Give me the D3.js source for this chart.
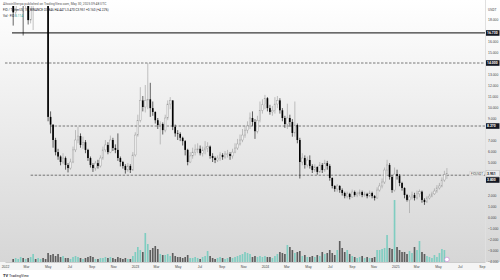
<!DOCTYPE html>
<html>
<head>
<meta charset="utf-8">
<script src="https://cdn.jsdelivr.net/npm/d3@7"></script>
<style>
  body { margin: 0; background: #fff; }
  svg { display: block; font-family: Roboto, "DejaVu Sans", sans-serif; }
</style>
</head>
<body>
<div id="chart"></div>
<script>
// weekly candles, first bar opens on this Monday
var firstWeek = "2022-01-24";
var firstOpen = 19.2;

var closes = [18.6, 19.8, 20.5, 21.0, 19.6, 20.2, 17.9, 20.5, 20.8, 20.5, 21.0, 22.0, 21.5, 21.0,
  9.1, 8.4, 7.0, 5.9, 5.5, 5.0, 5.36, 4.73, 4.45, 5.0, 6.1, 7.0, 7.36, 6.55, 6.8, 6.1,
  5.36, 4.73, 4.45, 4.9, 4.64, 5.36, 6.1, 6.55, 5.9, 7.0, 6.27, 6.1, 5.36, 5.0, 4.64, 4.27,
  4.64, 4.27, 5.64, 7.45, 8.8, 10.6, 10.0, 10.6, 10.7, 9.9, 9.55, 8.8, 8.36, 8.45, 7.9, 9.0,
  10.27, 10.6, 8.2, 7.6, 7.55, 7.2, 6.9, 6.1, 5.0, 5.55, 5.9, 6.1, 6.2, 5.8, 6.1, 6.27,
  6.4, 5.55, 5.36, 5.18, 5.36, 5.64, 5.45, 5.73, 5.73, 5.55, 5.9, 6.27, 6.64, 7.0, 7.45, 7.9,
  8.27, 9.0, 8.64, 7.8, 8.8, 9.7, 10.2, 10.8, 9.9, 9.55, 9.7, 10.27, 10.6, 9.7, 9.0, 8.45,
  9.0, 8.64, 7.64, 8.36, 7.0, 5.0, 5.36, 4.73, 5.18, 4.64, 4.27, 4.55, 4.1, 4.73, 4.27, 4.9,
  4.64, 3.55, 2.82, 2.55, 2.82, 2.45, 2.18, 1.9, 2.1, 1.82, 2.27, 2.0, 2.1, 2.27, 2.0, 2.1,
  1.9, 2.18, 1.9, 1.73, 2.45, 2.82, 3.18, 4.27, 4.73, 3.64, 2.45, 3.9, 3.73, 3.09, 2.64, 2.0,
  1.55, 1.82, 2.0, 1.73, 2.1, 2.3, 1.55, 1.36, 1.73, 1.9, 2.1, 2.36, 2.64, 2.82, 3.36, 3.846, 3.951];

var highs = [20.2, 21.0, 21.5, 22.0, 21.5, 21.0, 20.6, 21.0, 21.4, 21.8, 21.6, 22.8, 22.5, 22.0,
  21.5, 9.6, 8.4, 7.2, 6.2, 5.6, 5.8, 5.5, 4.9, 5.3, 6.4, 7.9, 8.2, 7.6, 7.3, 7.0,
  6.2, 5.5, 4.9, 5.1, 5.2, 5.6, 6.4, 7.0, 6.8, 7.4, 7.2, 6.6, 7.6, 5.5, 5.1, 4.8,
  4.9, 4.8, 5.9, 7.7, 9.3, 11.8, 11.0, 12.0, 14.0, 12.2, 10.5, 9.6, 9.0, 8.7, 8.6, 9.3,
  10.6, 10.9, 10.6, 8.4, 7.9, 7.7, 7.3, 7.0, 6.2, 5.9, 6.3, 6.6, 6.7, 6.5, 6.4, 6.9,
  6.8, 6.5, 5.8, 5.5, 5.6, 5.9, 5.8, 6.0, 6.1, 5.9, 6.2, 6.7, 7.1, 7.5, 8.0, 8.3,
  8.7, 9.5, 9.6, 8.9, 9.2, 10.5, 10.7, 11.1, 10.9, 10.2, 10.1, 10.9, 11.0, 10.8, 9.9, 9.2,
  10.3, 9.3, 8.9, 10.5, 8.5, 7.2, 5.8, 5.6, 5.5, 5.6, 4.8, 4.8, 4.6, 5.0, 4.9, 5.2,
  5.1, 4.8, 3.6, 2.9, 3.0, 2.9, 2.6, 2.3, 2.3, 2.2, 2.5, 2.4, 2.3, 2.5, 2.4, 2.3,
  2.2, 2.4, 2.3, 2.0, 2.7, 3.1, 3.5, 4.5, 5.2, 4.9, 3.8, 4.5, 4.3, 3.9, 3.2, 2.7,
  2.1, 2.0, 2.3, 2.2, 2.4, 2.5, 2.4, 1.7, 1.9, 2.1, 2.3, 2.6, 2.9, 3.1, 3.6, 4.2, 4.447];

var lows = [17.4, 18.2, 19.2, 19.5, 16.5, 19.0, 17.5, 17.6, 17.0, 19.9, 20.1, 20.6, 20.8, 20.2,
  8.7, 7.6, 6.3, 5.6, 5.2, 4.7, 4.8, 4.3, 4.05, 4.3, 4.9, 5.9, 6.7, 6.3, 6.2, 5.8,
  5.1, 4.5, 4.1, 4.2, 4.4, 4.5, 5.2, 5.9, 5.7, 5.8, 6.0, 5.8, 5.1, 4.6, 4.4, 3.95,
  4.1, 4.0, 4.2, 5.5, 7.3, 8.6, 9.6, 9.5, 9.8, 9.1, 9.2, 8.5, 8.0, 6.6, 7.5, 7.7,
  8.8, 9.8, 7.9, 7.3, 7.0, 6.9, 6.5, 5.6, 4.7, 4.9, 5.3, 5.6, 5.8, 5.6, 5.5, 5.7,
  5.9, 5.3, 5.0, 4.9, 5.0, 5.1, 5.2, 5.3, 5.4, 5.2, 5.3, 5.8, 6.1, 6.5, 6.8, 7.2,
  7.6, 8.0, 8.3, 7.1, 7.6, 8.6, 9.4, 9.8, 9.6, 9.3, 9.2, 9.4, 9.9, 9.4, 8.7, 8.1,
  8.0, 8.2, 7.3, 7.3, 6.7, 3.5, 4.7, 4.4, 4.5, 4.4, 4.0, 4.1, 3.85, 4.0, 4.0, 4.1,
  4.3, 3.3, 2.6, 2.3, 2.3, 2.2, 1.95, 1.7, 1.7, 1.6, 1.75, 1.85, 1.8, 1.9, 1.8, 1.85,
  1.7, 1.8, 1.7, 1.5, 1.65, 2.3, 2.6, 3.0, 3.9, 3.4, 2.2, 2.3, 3.4, 2.8, 2.4, 1.7,
  1.4, 0.36, 1.6, 1.5, 1.6, 1.8, 1.3, 1.1, 1.3, 1.6, 1.8, 2.0, 2.2, 2.5, 2.7, 3.2, 3.47];

var volumes = [3, 4, 3, 5, 4, 3, 4, 5, 8, 3, 4, 3, 4, 3,
  9, 7, 8, 6, 8, 5, 6, 4, 4, 3, 5, 6, 5, 4, 3, 4,
  5, 6, 5, 3, 3, 4, 4, 5, 4, 5, 4, 3, 5, 4, 3, 4,
  3, 3, 6, 10, 15, 12, 10, 29, 18, 12, 14, 16, 13, 8, 7, 7,
  8, 6, 9, 6, 5, 5, 4, 5, 7, 4, 4, 5, 4, 3, 5, 6,
  11, 6, 4, 3, 4, 5, 4, 3, 4, 5, 4, 5, 6, 7, 8, 10,
  9, 8, 5, 6, 5, 6, 5, 6, 5, 5, 4, 6, 8, 10, 9, 8,
  17, 15, 12, 9, 10, 11, 6, 7, 5, 5, 6, 5, 7, 6, 10, 8,
  9, 12, 9, 7, 12, 21, 14, 10, 12, 8, 6, 5, 4, 5, 6, 4,
  5, 4, 4, 5, 12, 12, 13, 14, 27, 14, 13, 62, 15, 12, 10, 10,
  8, 11, 9, 15, 12, 21, 10, 8, 6, 5, 4, 7, 5, 9, 13, 12, 3];

var levelSolid = 16.73;
var levelsDashed = [
  { price: 14.0, from: "2022-01-01" },
  { price: 8.27, from: "2022-05-09" },
  { price: 3.8, from: "2022-03-14" }
];
var priceTicks = d3.range(-4, 19, 1);
var monthLabels = ["2022", "Mar", "May", "Jul", "Sep", "Nov"];
var axisYears = [2022, 2023, 2024, 2025];

var W = 500, H = 280;
var box = { left: 2, right: 485, top: 6, bottom: 262 };

var svg = d3.select("#chart").append("svg")
  .attr("width", W).attr("height", H);

var defs = svg.append("defs");
var grad = defs.append("linearGradient").attr("id", "bg")
  .attr("x1", 0).attr("y1", 0).attr("x2", 0).attr("y2", 1);
grad.append("stop").attr("offset", "0%").attr("stop-color", "#ffffff");
grad.append("stop").attr("offset", "100%").attr("stop-color", "#d6d6d6");
defs.append("clipPath").attr("id", "plotclip")
  .append("rect").attr("x", box.left).attr("y", box.top)
  .attr("width", box.right - box.left).attr("height", box.bottom - box.top);

svg.append("rect").attr("x", 0).attr("y", 0).attr("width", W).attr("height", box.bottom)
  .attr("fill", "url(#bg)");
svg.append("rect").attr("x", 0).attr("y", box.bottom).attr("width", W).attr("height", 8)
  .attr("fill", "#f4f4f4");

// scales
var parse = d3.utcParse("%Y-%m-%d");
var start = parse(firstWeek);
var data = closes.map(function(c, i) {
  return {
    date: d3.utcDay.offset(start, i * 7),
    open: i === 0 ? firstOpen : closes[i - 1],
    high: highs[i], low: lows[i], close: c, vol: volumes[i]
  };
});

var x = d3.scaleUtc()
  .domain([parse("2022-01-01"), parse("2025-09-10")])
  .range([5, box.right]);
var y = d3.scaleLinear().domain([-4, 18]).range([261, 19]);
var yVol = d3.scaleLinear().domain([0, 62]).range([box.bottom, 200]);
var barW = (x(d3.utcDay.offset(start, 7)) - x(start)) * 0.66;

var plot = svg.append("g").attr("clip-path", "url(#plotclip)");

// volume
plot.selectAll(".vol").data(data).enter().append("rect")
  .attr("x", function(d) { return x(d.date) - barW / 2; })
  .attr("width", barW)
  .attr("y", function(d) { return yVol(d.vol); })
  .attr("height", function(d) { return box.bottom - yVol(d.vol); })
  .attr("fill", function(d) { return d.close >= d.open ? "#7fcdc1" : "#5d5d5d"; });

// levels
plot.append("line")
  .attr("x1", 12).attr("x2", box.right)
  .attr("y1", y(levelSolid)).attr("y2", y(levelSolid))
  .attr("stroke", "#3a3a3a").attr("stroke-width", 1.2);
plot.selectAll(".lvl").data(levelsDashed).enter().append("line")
  .attr("x1", function(d) { return x(parse(d.from)); }).attr("x2", box.right)
  .attr("y1", function(d) { return y(d.price); }).attr("y2", function(d) { return y(d.price); })
  .attr("stroke", "#444").attr("stroke-width", 0.7).attr("stroke-dasharray", "2.5,1.5");

// candles
var candle = plot.selectAll(".c").data(data).enter().append("g");
candle.append("line")
  .attr("x1", function(d) { return x(d.date); }).attr("x2", function(d) { return x(d.date); })
  .attr("y1", function(d) { return y(d.high); }).attr("y2", function(d) { return y(d.low); })
  .attr("stroke", function(d) { return d.close >= d.open ? "#9a9a9a" : "#000"; })
  .attr("stroke-width", 0.6);
candle.append("rect")
  .attr("x", function(d) { return x(d.date) - barW / 2; })
  .attr("width", barW)
  .attr("y", function(d) { return y(Math.max(d.open, d.close)); })
  .attr("height", function(d) { return Math.max(0.6, Math.abs(y(d.open) - y(d.close))); })
  .attr("fill", function(d) { return d.close >= d.open ? "#f0f0f0" : "#000"; })
  .attr("stroke", function(d) { return d.close >= d.open ? "#9a9a9a" : "none"; })
  .attr("stroke-width", 0.4);

// event marker
var lastD = data[data.length - 1];
svg.append("circle").attr("cx", x(lastD.date)).attr("cy", box.bottom - 2.5).attr("r", 2.3)
  .attr("fill", "#fff").attr("stroke", "#d07ad8").attr("stroke-width", 0.6);

// right axis
svg.append("line").attr("x1", box.right + 0.5).attr("x2", box.right + 0.5)
  .attr("y1", 0).attr("y2", box.bottom).attr("stroke", "#e0e0e0");
var fmt = d3.format(".3f");
var busy = [y(levelSolid), y(14.0), y(8.27), y(lastD.close), 180];
var yAxis = svg.append("g").attr("transform", "translate(" + box.right + ",0)")
  .call(d3.axisRight(y).tickValues(priceTicks.filter(function(t) {
      return busy.every(function(b) { return Math.abs(y(t) - b) > 4; });
    })).tickSize(0).tickPadding(3).tickFormat(fmt));
yAxis.select(".domain").remove();
yAxis.selectAll("text").attr("font-size", 3.4).attr("fill", "#444");
svg.append("text").attr("x", box.right + 3).attr("y", 11).attr("font-size", 3.4)
  .attr("fill", "#444").text("USDT");

function tag(py, label, dark) {
  svg.append("rect").attr("x", box.right + 1).attr("y", py - 2.8).attr("width", 13.5).attr("height", 5.6)
    .attr("fill", dark ? "#131722" : "#ececec").attr("stroke", dark ? "none" : "#999")
    .attr("stroke-width", 0.3);
  svg.append("text").attr("x", box.right + 2).attr("y", py + 1.3).attr("font-size", 3.4)
    .attr("font-weight", "bold").attr("fill", dark ? "#fff" : "#131722").text(label);
}
tag(y(levelSolid), fmt(levelSolid), true);
tag(y(14.0), fmt(14.0), true);
tag(y(8.27), fmt(8.27), true);
tag(y(lastD.close), fmt(lastD.close), false);
tag(180, fmt(3.8), true);

// symbol tag on the last price line
svg.append("rect").attr("x", 470).attr("y", y(lastD.close) - 2.2).attr("width", 14).attr("height", 4.4)
  .attr("fill", "#f7f7f7").attr("stroke", "#aaa").attr("stroke-width", 0.3);
svg.append("text").attr("x", 471).attr("y", y(lastD.close) + 1.2).attr("font-size", 3)
  .attr("fill", "#333").text("FIOUSDT");

// time axis
var tickDates = [];
axisYears.forEach(function(yr) {
  [0, 2, 4, 6, 8, 10].forEach(function(m) {
    var dt = new Date(Date.UTC(yr, m, 1));
    if (dt <= x.domain()[1]) tickDates.push(dt);
  });
});
var xAxis = svg.append("g").attr("transform", "translate(0," + box.bottom + ")")
  .call(d3.axisBottom(x).tickValues(tickDates).tickSize(0).tickPadding(3.5)
    .tickFormat(function(d) {
      return d.getUTCMonth() === 0 ? String(d.getUTCFullYear()) : monthLabels[d.getUTCMonth() / 2];
    }));
xAxis.select(".domain").attr("stroke", "#ccc");
xAxis.selectAll("text").attr("font-size", 3.4).attr("fill", "#444");

// header
svg.append("text").attr("x", 3).attr("y", 4.5).attr("font-size", 3.3).attr("fill", "#555")
  .text("AltcoinSherpa published on TradingView.com, May 30, 2025 09:48 UTC");
var h2 = svg.append("text").attr("x", 3).attr("y", 11).attr("font-size", 3.1).attr("fill", "#131722");
h2.append("tspan").text("FIO / TetherUS, 1W, BINANCE  ");
h2.append("tspan").text("O3.846 H4.447 L3.470 C3.951 +0.160 (+4.22%)");
var h3 = svg.append("text").attr("x", 3).attr("y", 16.5).attr("font-size", 3.1).attr("fill", "#131722");
h3.append("tspan").text("Vol · FIO  ");
h3.append("tspan").attr("fill", "#26a69a").text("5.114");

// footer logo
svg.append("text").attr("x", 3).attr("y", 276.5).attr("font-size", 4).attr("font-weight", "bold")
  .attr("fill", "#131722").text("TV");
svg.append("text").attr("x", 9).attr("y", 276.5).attr("font-size", 3.6)
  .attr("fill", "#131722").text("TradingView");
</script>
</body>
</html>
